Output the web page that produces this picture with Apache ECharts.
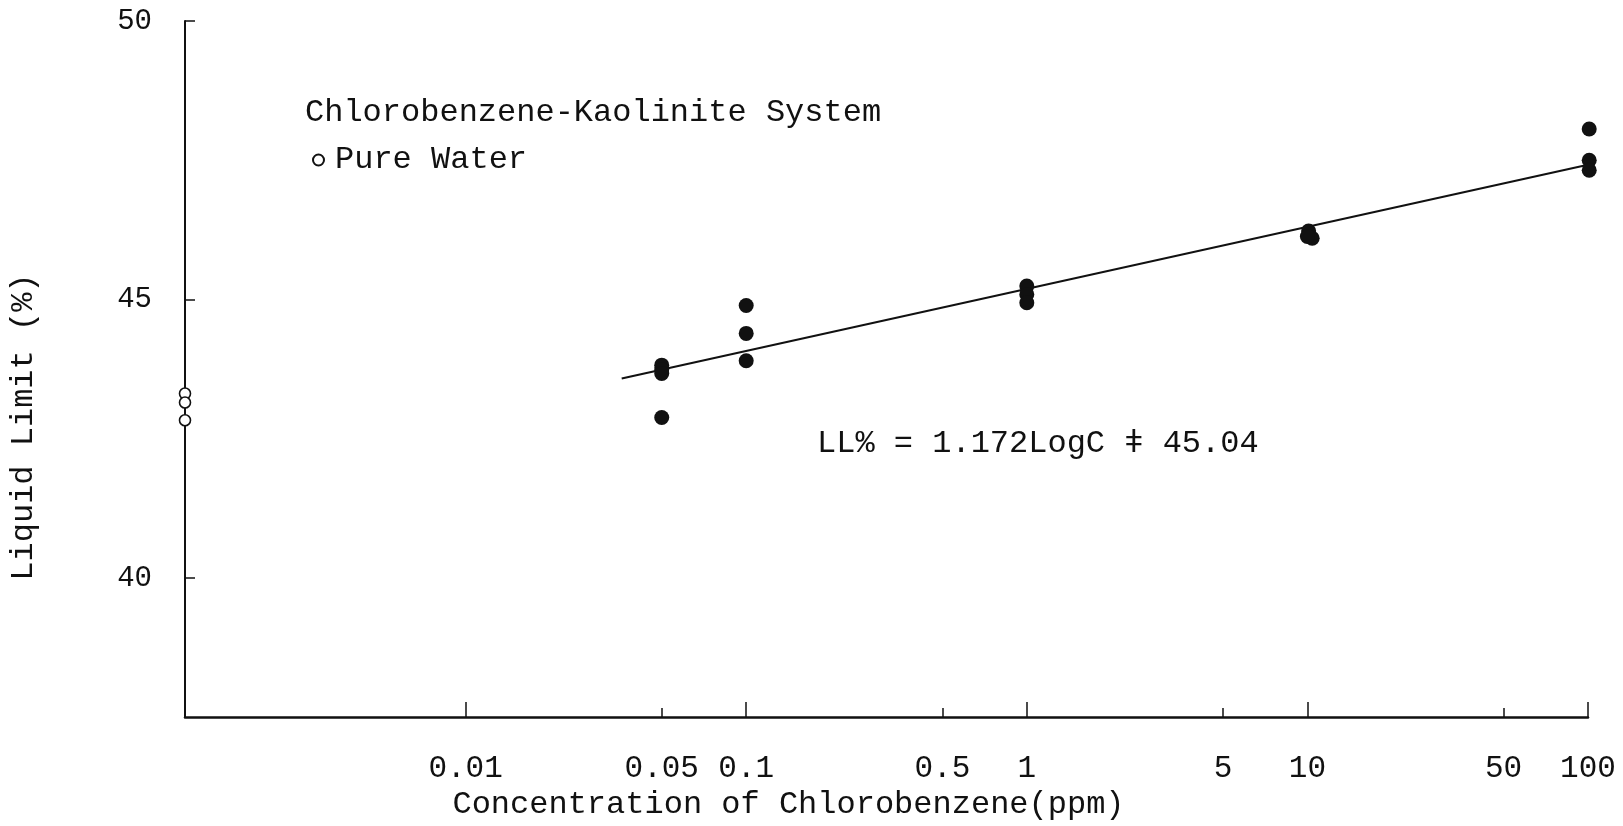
<!DOCTYPE html>
<html><head><meta charset="utf-8">
<script src="https://cdn.jsdelivr.net/npm/echarts@6/dist/echarts.min.js"></script>
<style>html,body{margin:0;padding:0;background:#fff;}#c{width:1623px;height:826px;}</style>
</head><body><div id="c"></div>
<script>
// Data
const xMajorTicks = [0.01, 0.1, 1, 10, 100];
const xMinorTicks = [0.05, 0.5, 5, 50];
const xTickLabels = [0.01, 0.05, 0.1, 0.5, 1, 5, 10, 50, 100];
const yTickLabels = [40, 45, 50];

const pureWater = [[0.001, 43.31], [0.001, 43.15], [0.001, 42.83]];
const chlorobenzene = [
  [0.05, 43.82], [0.05, 43.74], [0.05, 43.67], [0.05, 42.88],
  [0.1, 44.89], [0.1, 44.39], [0.1, 43.90],
  [1, 45.24], [1, 45.09], [1, 44.94],
  [10.1, 46.23], [10.4, 46.10], [10, 46.13],
  [101, 48.06], [101, 47.50], [101, 47.32]
];
const fitLine = [[0.036, 43.58], [100, 47.42]];

const FONT = "'Liberation Mono', 'DejaVu Sans Mono', monospace";
const INK = '#111';

function fmt(v) { return String(+Number(v).toPrecision(6)); }

const chart = echarts.init(document.getElementById('c'), null, { renderer: 'canvas' });
chart.setOption({
  backgroundColor: '#fff',
  animation: false,
  grid: { left: 182, right: 35, top: 21, bottom: 101, containLabel: false },
  title: {
    text: 'Chlorobenzene-Kaolinite System',
    left: 300, top: 92,
    textStyle: { fontFamily: FONT, fontSize: 32, fontWeight: 'normal', color: INK }
  },
  legend: {
    data: ['Pure Water'],
    left: 307, top: 139,
    itemWidth: 11, itemHeight: 11,
    textStyle: { fontFamily: FONT, fontSize: 32, color: INK, padding: [0, 0, 0, 6] }
  },
  graphic: [{
    type: 'text', left: 817, top: 428,
    style: { text: 'LL% = 1.172LogC ǂ 45.04', font: "32px 'Liberation Mono', 'DejaVu Sans Mono', monospace", fill: INK }
  }],
  xAxis: [{
    type: 'log', logBase: 10, min: 0.001, max: 100,
    position: 'bottom',
    axisLine: { show: true, lineStyle: { color: INK, width: 2.5 } },
    axisTick: { show: true, inside: true, length: 15, lineStyle: { color: INK, width: 1.5 }, customValues: xMajorTicks },
    axisLabel: { show: true, customValues: xTickLabels, formatter: fmt, margin: 36,
      fontFamily: FONT, fontSize: 31, color: INK },
    splitLine: { show: false },
    minorTick: { show: false },
    name: 'Concentration of Chlorobenzene(ppm)',
    nameLocation: 'middle', nameGap: 68,
    nameTextStyle: { fontFamily: FONT, fontSize: 32, color: INK, padding: [0, 196, 0, 0] }
  }, {
    type: 'log', logBase: 10, min: 0.001, max: 100,
    position: 'bottom',
    axisLine: { show: false },
    axisTick: { show: true, inside: true, length: 9, lineStyle: { color: INK, width: 1.5 }, customValues: xMinorTicks },
    axisLabel: { show: false },
    splitLine: { show: false }
  }],
  yAxis: {
    type: 'value', min: 37.5, max: 50,
    axisLine: { show: true, lineStyle: { color: INK, width: 2 } },
    axisTick: { show: true, inside: true, length: 10, lineStyle: { color: INK, width: 1.5 }, customValues: yTickLabels },
    axisLabel: { customValues: yTickLabels, margin: 33, fontFamily: FONT, fontSize: 29, color: INK },
    splitLine: { show: false },
    name: 'Liquid Limit (%)',
    nameLocation: 'middle', nameRotate: 90, nameGap: 145,
    nameTextStyle: { fontFamily: FONT, fontSize: 32, color: INK, padding: [0, 116, 0, 0] }
  },
  series: [{
    name: 'Pure Water', type: 'scatter', data: pureWater, clip: false,
    symbol: 'circle', symbolSize: 11,
    itemStyle: { color: '#fff', borderColor: INK, borderWidth: 1.6, opacity: 1 },
    z: 4
  }, {
    name: 'Chlorobenzene', type: 'scatter', data: chlorobenzene, clip: false,
    symbol: 'circle', symbolSize: 15,
    itemStyle: { color: INK, opacity: 1 },
    z: 3
  }, {
    name: 'Fit', type: 'line', data: fitLine, showSymbol: false, symbol: 'none',
    lineStyle: { color: INK, width: 2 }, z: 2
  }]
});
</script></body></html>
